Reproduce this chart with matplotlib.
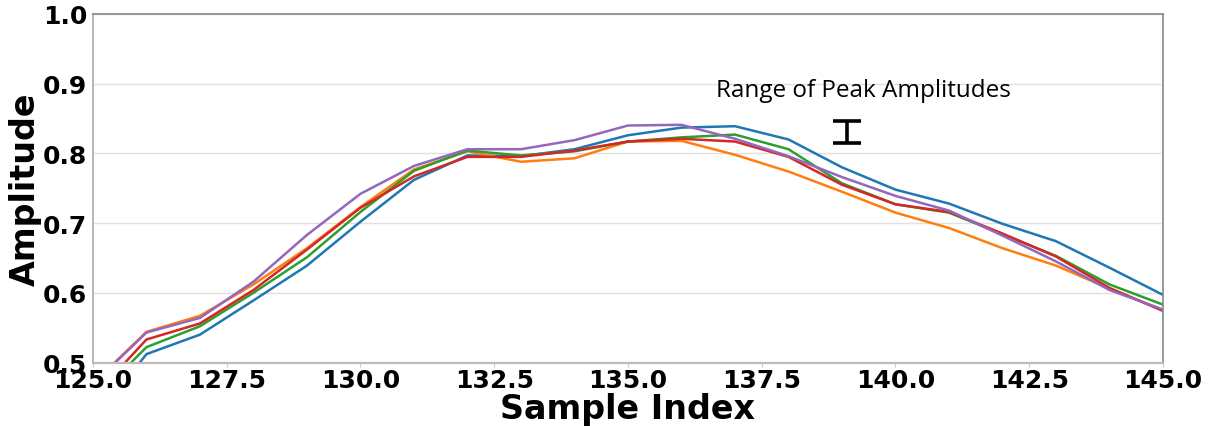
import matplotlib
matplotlib.use("Agg")
import matplotlib.pyplot as plt

# Sample indices and amplitude traces for each capture
sample_index = list(range(125, 146))

trace_1 = [0.415, 0.512, 0.540, 0.589, 0.639, 0.702, 0.762, 0.797, 0.796, 0.806, 0.826,
           0.837, 0.839, 0.820, 0.780, 0.748, 0.728, 0.699, 0.674, 0.636, 0.597]
trace_2 = [0.470, 0.544, 0.567, 0.612, 0.664, 0.723, 0.777, 0.803, 0.788, 0.793, 0.817,
           0.818, 0.798, 0.774, 0.745, 0.715, 0.693, 0.664, 0.639, 0.606, 0.575]
trace_3 = [0.445, 0.522, 0.552, 0.600, 0.651, 0.716, 0.775, 0.804, 0.797, 0.803, 0.817,
           0.823, 0.827, 0.806, 0.757, 0.727, 0.715, 0.684, 0.653, 0.612, 0.583]
trace_4 = [0.450, 0.533, 0.556, 0.604, 0.662, 0.722, 0.767, 0.795, 0.795, 0.804, 0.817,
           0.821, 0.817, 0.795, 0.755, 0.727, 0.716, 0.685, 0.652, 0.607, 0.574]
trace_5 = [0.469, 0.543, 0.564, 0.616, 0.683, 0.742, 0.782, 0.806, 0.806, 0.819, 0.840,
           0.841, 0.821, 0.796, 0.766, 0.739, 0.718, 0.682, 0.645, 0.604, 0.576]
traces = [trace_1, trace_2, trace_3, trace_4, trace_5]
colors = ["#1f77b4", "#ff7f0e", "#2ca02c", "#d62728", "#9467bd"]

# Peak-amplitude range marker
peak_x = 139.1
peak_low, peak_high = 0.815, 0.847
annotation = "Range of Peak Amplitudes"

fig = plt.figure(figsize=(12.15, 4.27), dpi=100)
ax = fig.add_axes([0.0765, 0.1487, 0.8807, 0.8162])

for values, c in zip(traces, colors):
    ax.plot(sample_index, values, color=c, linewidth=1.8)

mid = (peak_low + peak_high) / 2
ax.errorbar([peak_x], [mid], yerr=[[mid - peak_low], [peak_high - mid]],
            fmt="none", ecolor="black", elinewidth=2.6, capsize=10, capthick=2.6)
ax.text(139.41, 0.891, annotation, ha="center", va="center",
        fontsize=17.5, family="Open Sans", color="black")

ax.set_xlim(125, 145)
ax.set_ylim(0.5, 1.0)
ax.set_xticks([125, 127.5, 130, 132.5, 135, 137.5, 140, 142.5, 145])
ax.set_yticks([0.5, 0.6, 0.7, 0.8, 0.9, 1.0])
ax.set_xticklabels([f"{t:.1f}" for t in ax.get_xticks()])
ax.set_yticklabels([f"{t:.1f}" for t in ax.get_yticks()])

ax.grid(axis="y", color="#e0e0e0", linewidth=1)
ax.set_axisbelow(True)

for lab in ax.get_xticklabels() + ax.get_yticklabels():
    lab.set_fontsize(18)
    lab.set_fontweight("bold")
ax.tick_params(axis="x", length=3, width=0.8, color="#cccccc", pad=1)
ax.tick_params(axis="y", length=0, pad=4)

ax.spines["top"].set_color("#888888")
ax.spines["right"].set_color("#888888")
ax.spines["left"].set_color("#aaaaaa")
ax.spines["bottom"].set_color("#bbbbbb")
ax.spines["bottom"].set_linewidth(1.6)
for s in ["top", "right", "left"]:
    ax.spines[s].set_linewidth(1.2)

ax.set_xlabel("Sample Index", fontsize=24, fontweight="bold", labelpad=0)
ax.set_ylabel("Amplitude", fontsize=24, fontweight="bold", labelpad=1)

fig.savefig("out.png", dpi=100)
